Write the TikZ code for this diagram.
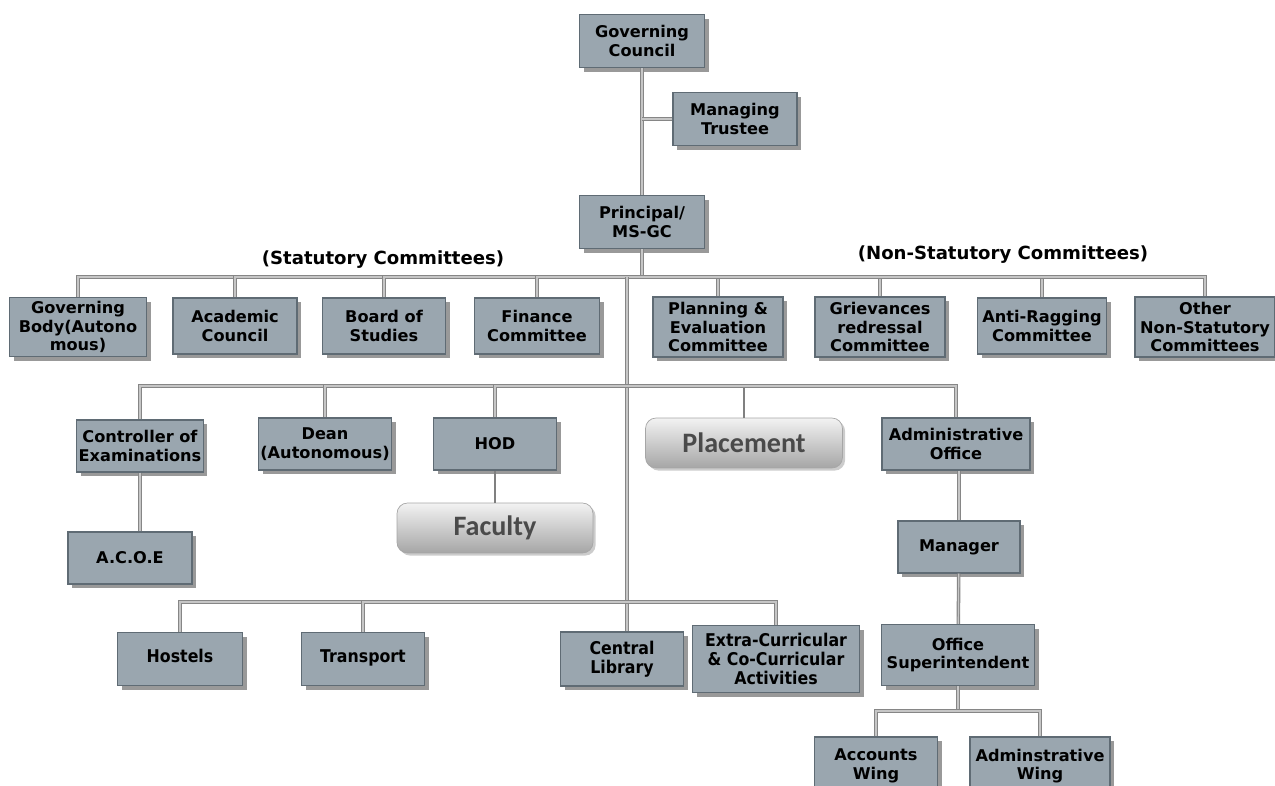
\documentclass[tikz,border=0pt]{standalone}
\usepackage{fontspec}
\setmainfont{DejaVu Sans}
\newfontfamily\condfont{DejaVu Sans Condensed}
\newfontfamily\btnfont{Carlito}
\usepackage{xcolor}
\usetikzlibrary{shadows}
\definecolor{boxfill}{HTML}{9AA6AF}
\definecolor{boxline}{HTML}{5F6B74}
\definecolor{btntext}{HTML}{4A4A4A}
\tikzset{font={\fontsize{9}{10}\selectfont}}

\begin{document}
\begin{tikzpicture}[x=0.02cm,y=-0.02cm,
    box/.style={rectangle,draw=boxline,fill=boxfill,line width=0.6pt,align=center,inner sep=1pt,
      font=\fontsize{9.2}{10.6}\selectfont\bfseries,
      drop shadow={shadow xshift=2.4pt,shadow yshift=-2.4pt,fill=black!80}},
    cond box/.style={box,font=\condfont\fontsize{10}{11}\selectfont\bfseries},
    btn/.style={rectangle,rounded corners=6pt,draw=gray!70,top color=white!90!gray,bottom color=gray!70,
      text=btntext,font=\btnfont\fontsize{16}{18}\selectfont\bfseries,
      drop shadow={shadow xshift=1.5pt,shadow yshift=-1.5pt,fill=black!40}},
    link/.style={draw=gray!95,double=gray!45,double distance=0.7pt,line width=0.65pt},
    thin link/.style={draw=gray,line width=0.6pt},
    group label/.style={font=\fontsize{10.3}{12}\selectfont\bfseries}]

  \useasboundingbox (0,0) rectangle (1275,786);

  % top
  \node[box,minimum width=2.5cm,minimum height=1.06cm] (gc) at (642,41) {Governing\\Council};
  \node[box,minimum width=2.48cm,minimum height=1.06cm] (mt) at (735,119) {Managing\\Trustee};
  \node[box,minimum width=2.5cm,minimum height=1.06cm] (pr) at (642,222) {Principal/\\MS-GC};

  \node[group label] (stat) at (383,260) {(Statutory Committees)};
  \node[group label] (nonstat) at (1003,255) {(Non-Statutory Committees)};

  % committees
  \node[box,minimum width=2.74cm,minimum height=1.18cm] (gb) at (78,327) {Governing\\Body(Autono\\mous)};
  \node[box,minimum width=2.48cm,minimum height=1.12cm] (ac) at (235,326) {Academic\\Council};
  \node[box,minimum width=2.46cm,minimum height=1.12cm] (bs) at (384,326) {Board of\\Studies};
  \node[box,minimum width=2.5cm,minimum height=1.12cm] (fc) at (537,326) {Finance\\Committee};
  \node[box,minimum width=2.6cm,minimum height=1.2cm] (pe) at (718,327) {Planning \&\\Evaluation\\Committee};
  \node[box,minimum width=2.6cm,minimum height=1.2cm] (gr) at (880,327) {Grievances\\redressal\\Committee};
  \node[box,minimum width=2.58cm,minimum height=1.12cm] (ar) at (1042,326) {Anti-Ragging\\Committee};
  \node[box,minimum width=2.8cm,minimum height=1.2cm] (ot) at (1205,327) {Other\\Non-Statutory\\Committees};

  % second level
  \node[box,minimum width=2.52cm,minimum height=1.04cm] (coe) at (140,446) {Controller of\\Examinations};
  \node[box,minimum width=2.6cm,minimum height=1.04cm] (dn) at (325,444) {Dean\\(Autonomous)};
  \node[box,minimum width=2.46cm,minimum height=1.04cm] (hod) at (495,444) {HOD};
  \node[btn,minimum width=3.94cm,minimum height=1.0cm] (pl) at (744,443) {Placement};
  \node[box,minimum width=2.96cm,minimum height=1.04cm] (ao) at (956,444) {Administrative\\Office};
  \node[btn,minimum width=3.92cm,minimum height=1.0cm] (fa) at (495,528) {Faculty};
  \node[box,minimum width=2.48cm,minimum height=1.04cm] (acoe) at (130,558) {A.C.O.E};
  \node[box,minimum width=2.44cm,minimum height=1.04cm] (mg) at (959,547) {Manager};
  \node[box,minimum width=3.06cm,minimum height=1.22cm] (os) at (958,655) {Office\\Superintendent};
  \node[box,minimum width=2.46cm,minimum height=1.16cm] (aw) at (876,766) {Accounts\\Wing};
  \node[box,minimum width=2.8cm,minimum height=1.16cm] (dw) at (1040,766) {Adminstrative\\Wing};

  % services
  \node[cond box,minimum width=2.5cm,minimum height=1.06cm] (ho) at (180,659) {\strut Hostels};
  \node[cond box,minimum width=2.46cm,minimum height=1.06cm] (tr) at (363,659) {\strut Transport};
  \node[cond box,minimum width=2.46cm,minimum height=1.08cm] (cl) at (622,659) {Central\\Library};
  \node[cond box,minimum width=3.34cm,minimum height=1.34cm] (ex) at (776,659) {Extra-Curricular\\\& Co-Curricular\\Activities};

  % bars
  \coordinate (bar1) at (642,277);
  \coordinate (trunk) at (627,277);
  \coordinate (bar2) at (627,386);
  \coordinate (bar3) at (627,602);
  \coordinate (bar4) at (958,711);

  \draw[link] (gc) -- (pr);
  \draw[link] (mt.west) -- (mt.west -| gc.south);
  \draw[link] (pr) -- (bar1);
  \foreach \c in {gb,ac,bs,fc,pe,gr,ar,ot}
    \draw[link] (bar1) -| (\c.north);
  \draw[link] (trunk) -- (cl.north -| trunk);
  \draw[thin link] (pl.north |- bar2) -- (pl.north);
  \foreach \c in {coe,dn,hod,ao}
    \draw[link] (bar2) -| (\c.north);
  \draw[thin link] (hod) -- (fa);
  \draw[link] (coe.south) -- (coe.south |- acoe.north);
  \draw[link] (ao.south -| mg) -- (mg);
  \draw[link] (mg) -- (os);
  \draw[link] (os) -- (bar4);
  \foreach \c in {aw,dw}
    \draw[link] (bar4) -| (\c.north);
  \foreach \c in {ho,tr,ex}
    \draw[link] (bar3) -| (\c.north);
\end{tikzpicture}
\end{document}
